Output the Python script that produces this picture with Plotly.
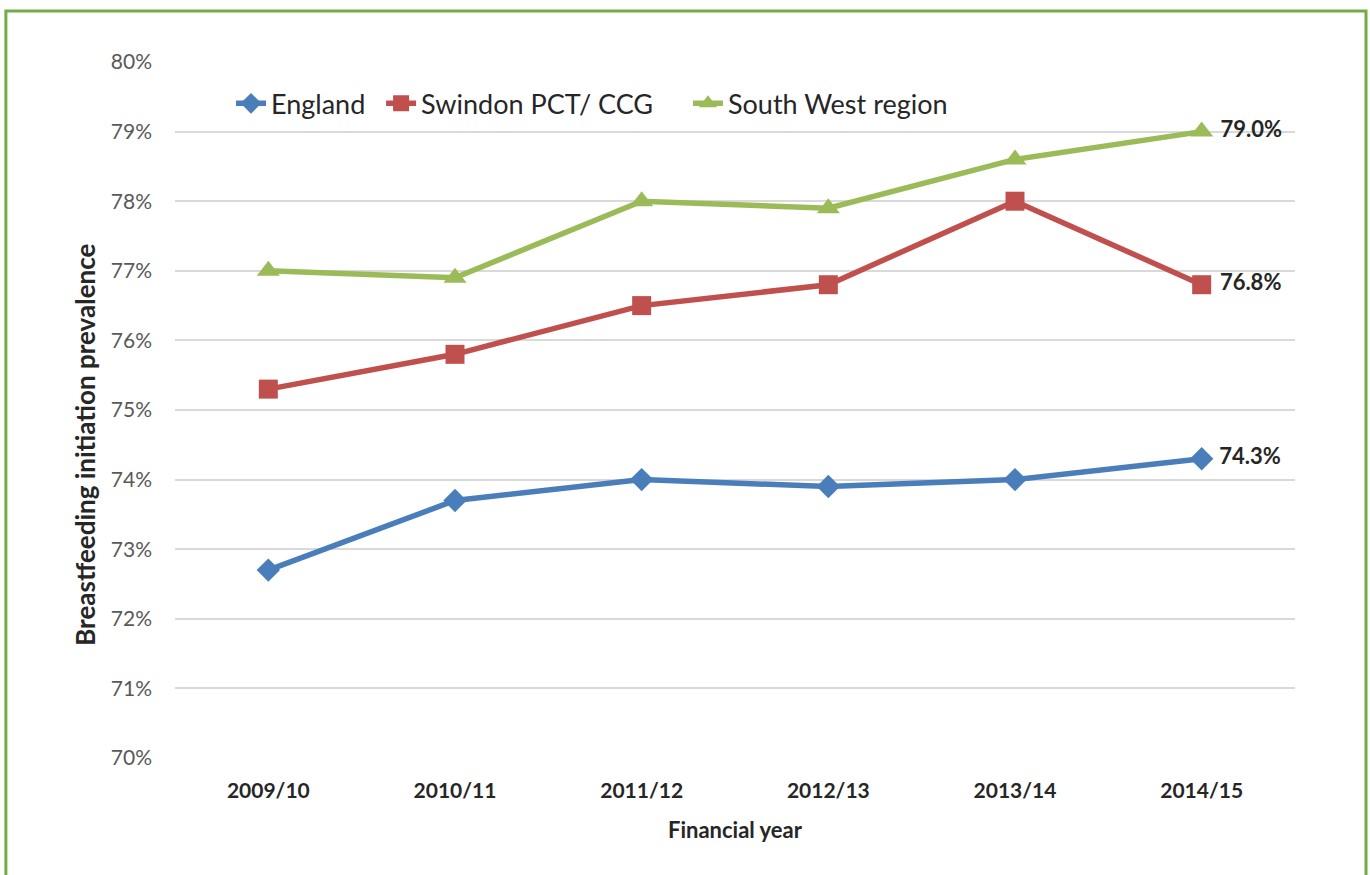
import plotly.graph_objects as go

years = ["2009/10", "2010/11", "2011/12", "2012/13", "2013/14", "2014/15"]
england = [72.7, 73.7, 74.0, 73.9, 74.0, 74.3]
swindon = [75.3, 75.8, 76.5, 76.8, 78.0, 76.8]
south_west = [77.0, 76.9, 78.0, 77.9, 78.6, 79.0]

series = [
    ("England", england, "#4A7EBB", "diamond", 18, "legend", 0.050),
    ("Swindon PCT/ CCG", swindon, "#C0504D", "square", 19, "legend2", 0.184),
    ("South West region", south_west, "#9BBB59", "triangle-up", 20, "legend3", 0.458),
]

font = "Lato, 'Open Sans', sans-serif"
fig = go.Figure()
legends = {}
for name, vals, color, sym, size, leg, lx in series:
    labels = [""] * (len(vals) - 1) + [f" {vals[-1]:.1f}%"]
    fig.add_trace(go.Scatter(
        x=years, y=vals, name=name, mode="lines+markers+text",
        line=dict(color=color, width=5.5),
        marker=dict(symbol=sym, size=size, color=color),
        text=labels, textposition="middle right",
        textfont=dict(family=font, size=22, color="#262626", weight="bold"),
        cliponaxis=False, legend=leg, showlegend=True,
    ))
    legends[leg] = dict(orientation="h", x=lx, y=0.94, xanchor="left", yanchor="middle",
                        font=dict(size=27, color="#262626"), bgcolor="rgba(0,0,0,0)")

fig.add_annotation(
    text="Breastfeeding initiation prevalence", textangle=-90,
    xref="paper", yref="paper", x=-0.0804, y=0.45, xanchor="center", yanchor="middle",
    showarrow=False, font=dict(family=font, size=26, color="#262626", weight="bold"),
)

fig.update_layout(
    width=1370, height=875, showlegend=True,
    margin=dict(l=175, r=75, t=62, b=117),
    paper_bgcolor="white", plot_bgcolor="white",
    font=dict(family=font, color="#595959"),
    xaxis=dict(range=[-0.5, 5.5], showgrid=False, showline=False, zeroline=False, ticks="",
               tickfont=dict(size=21, color="#262626", weight="bold"),
               ticklabelstandoff=18,
               title=dict(text="Financial year", font=dict(size=22, color="#262626", weight="bold"), standoff=21)),
    yaxis=dict(range=[70, 80], dtick=1, ticksuffix="%", showgrid=True,
               gridcolor="#D9D9D9", gridwidth=2, zeroline=False, showline=False,
               tickfont=dict(size=21, color="#595959"), ticks="", ticklabelstandoff=22),
    shapes=[dict(type="rect", xref="paper", yref="paper",
                 x0=-0.151, x1=1.0634, y0=-0.2, y1=1.0733,
                 line=dict(color="#70AD47", width=3), fillcolor="rgba(0,0,0,0)", layer="below")],
    **legends,
)

fig.write_html("out.html", config={"displayModeBar": False},
               post_script="document.body.style.margin='0px';document.body.style.overflow='hidden';")
